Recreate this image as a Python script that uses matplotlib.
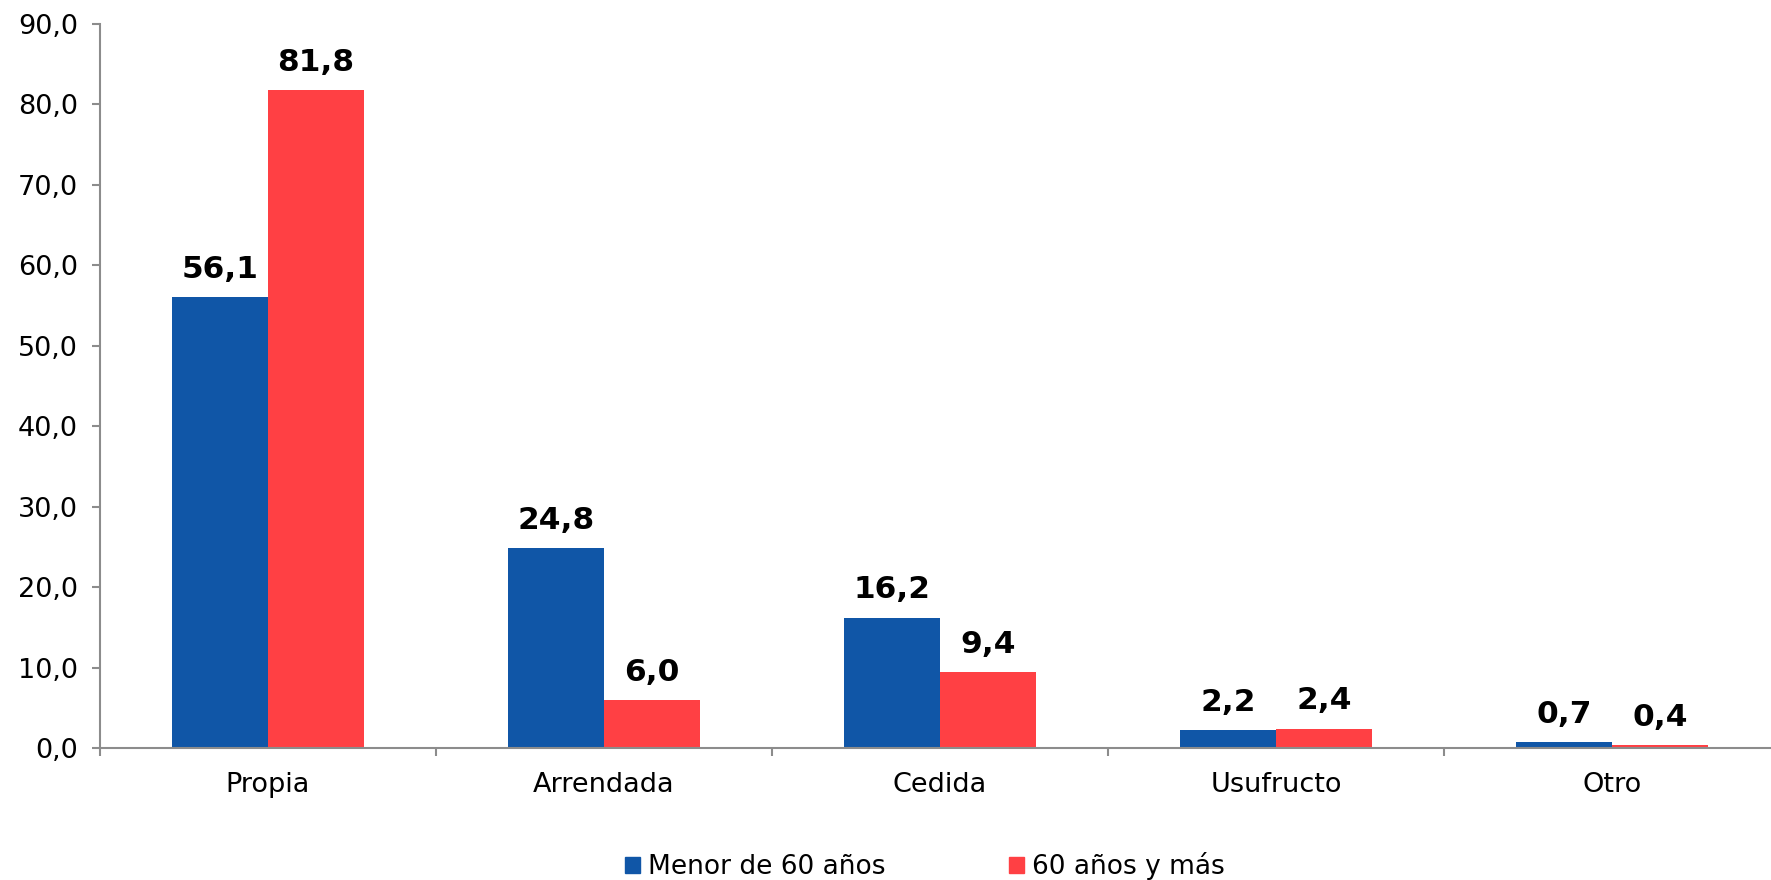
import matplotlib
matplotlib.use("Agg")
import matplotlib.pyplot as plt
import numpy as np
from matplotlib.patches import Patch

categories = ["Propia", "Arrendada", "Cedida", "Usufructo", "Otro"]
menor_60 = [56.1, 24.8, 16.2, 2.2, 0.7]
mayor_60 = [81.8, 6.0, 9.4, 2.4, 0.4]
series_names = ["Menor de 60 años", "60 años y más"]
yticks = [0, 10, 20, 30, 40, 50, 60, 70, 80, 90]

BLUE = "#1056A7"
RED = "#FF4044"
AXIS = "#8C8C8C"

plt.rcParams["font.family"] = ["DejaVu Sans"]

W, H = 1771, 880
fig = plt.figure(figsize=(W / 100, H / 100), dpi=100)
# axes run from x=100px, each category is 336px wide (the last one runs past the edge)
ax = fig.add_axes([100 / W, 1 - 748 / H, 1680 / W, (748 - 24) / H])

x = np.arange(len(categories))
bw = 0.286
b1 = ax.bar(x - bw / 2, menor_60, bw, color=BLUE, label=series_names[0])
b2 = ax.bar(x + bw / 2, mayor_60, bw, color=RED, label=series_names[1])

for bars, vals in ((b1, menor_60), (b2, mayor_60)):
    for rect, v in zip(bars, vals):
        ax.annotate(f"{v:.1f}".replace(".", ","),
                    (rect.get_x() + rect.get_width() / 2, v),
                    xytext=(0, 9.5), textcoords="offset points",
                    ha="center", va="bottom", fontsize=22.5,
                    fontweight="bold", color="black")

ax.set_xlim(-0.5, len(categories) - 0.5)
ax.set_ylim(0, 90)
ax.set_yticks(yticks)
ax.set_yticklabels([f"{t:.1f}".replace(".", ",") for t in yticks])

ax.set_xticks(x)
ax.set_xticklabels(categories)
ax.set_xticks(np.arange(len(categories) + 1) - 0.5, minor=True)

for s in ("top", "right"):
    ax.spines[s].set_visible(False)
for s in ("left", "bottom"):
    ax.spines[s].set_color(AXIS)
    ax.spines[s].set_linewidth(1.5)

ax.tick_params(axis="y", direction="out", length=6, width=1.5, color=AXIS,
               pad=10, labelsize=19.5, labelcolor="black")
ax.tick_params(axis="x", which="major", length=0, pad=17, labelsize=19.5,
               labelcolor="black")
ax.tick_params(axis="x", which="minor", direction="out", length=6, width=1.5,
               color=AXIS)

handles = [Patch(color=BLUE), Patch(color=RED)]
fig.legend(handles, series_names, loc="center", bbox_to_anchor=(925 / W, 1 - 866 / H),
           ncol=2, frameon=False, fontsize=19, handlelength=0.57,
           handleheight=0.57, handletextpad=0.3, columnspacing=4.7,
           borderpad=0, borderaxespad=0)

fig.savefig("out.png", dpi=100)
